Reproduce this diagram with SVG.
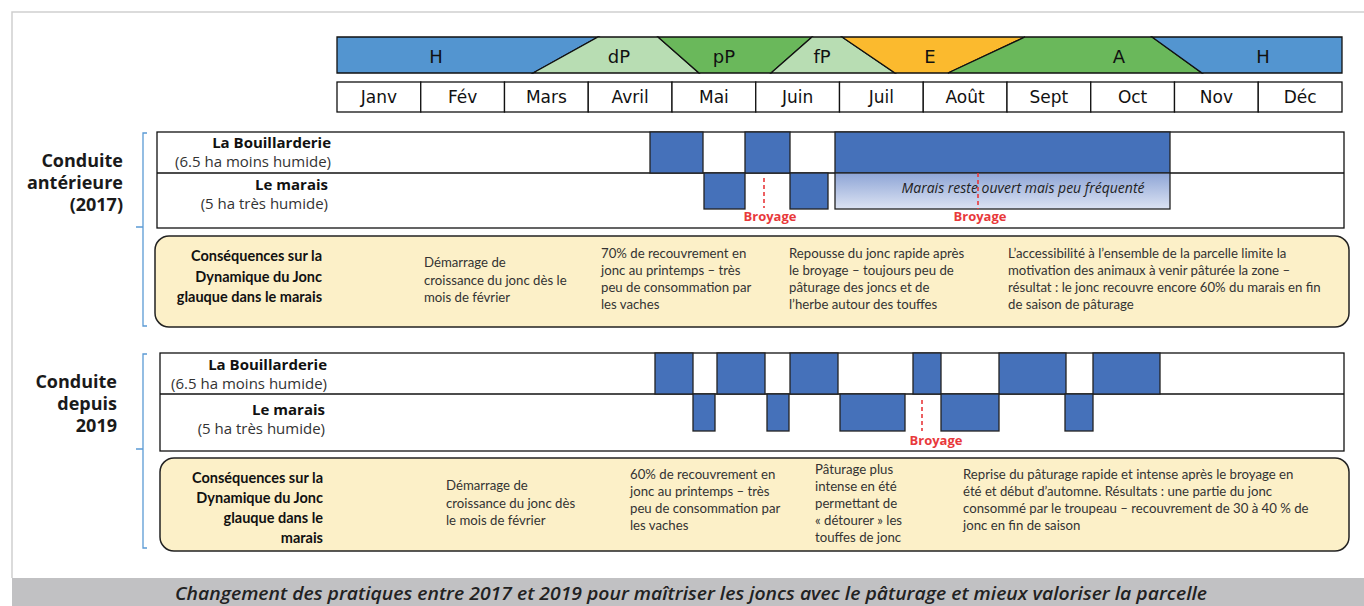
<svg xmlns="http://www.w3.org/2000/svg" width="1364" height="606" viewBox="0 0 1364 606">
<style>
.season{stroke:#111;stroke-width:1.3}
.mon{fill:#fff;stroke:#111;stroke-width:1.3}
.lbl{font-family:"DejaVu Sans",sans-serif;font-size:18px;fill:#111;text-anchor:middle}
.mlbl{font-family:"DejaVu Sans",sans-serif;font-size:17px;fill:#111;text-anchor:middle}
.sec{font-family:"Open Sans",sans-serif;font-weight:bold;font-size:18px;fill:#1a1a1a;text-anchor:end}
.rb{font-family:"Open Sans",sans-serif;font-weight:bold;font-size:15px;fill:#111;text-anchor:end}
.rr{font-family:"Open Sans",sans-serif;font-size:15px;fill:#333;text-anchor:end}
.box{fill:#fff;stroke:#111;stroke-width:1.3}
.blk{fill:#4571BA;stroke:#222;stroke-width:1.3}
.dash{stroke:#E8393B;stroke-width:1.6;stroke-dasharray:4 3;fill:none}
.broy{font-family:"Open Sans",sans-serif;font-weight:bold;font-size:13px;fill:#E8393B;text-anchor:middle}
.ybox{fill:#FCF0C8;stroke:#222;stroke-width:1.5}
.cb{font-family:Lato,sans-serif;font-weight:bold;font-size:14.5px;fill:#111;text-anchor:end}
.ct{font-family:Lato,sans-serif;font-size:13.2px;fill:#333}
.brk{fill:none;stroke:#5B9BD5;stroke-width:1.3}
</style>
<defs>
<linearGradient id="g1" x1="0" y1="0" x2="0" y2="1">
<stop offset="0" stop-color="#8EA5D6"/>
<stop offset="1" stop-color="#DCE3F3"/>
</linearGradient>
</defs>
<rect width="1364" height="606" fill="#fff"/>
<path d="M12,578 V12 H1364" fill="none" stroke="#cfcfcf" stroke-width="1.5"/>

<g id="seasons">
<polygon class="season" fill="#5395D0" points="337,37 598,37 533,73 337,73"/>
<polygon class="season" fill="#B8DDB3" points="598,37 658,37 699,73 533,73"/>
<polygon class="season" fill="#6AB85B" points="658,37 812,37 771,73 699,73"/>
<polygon class="season" fill="#B8DDB3" points="812,37 842,37 895,73 771,73"/>
<polygon class="season" fill="#FBBA2E" points="842,37 1025,37 948,73 895,73"/>
<polygon class="season" fill="#6AB85B" points="1025,37 1152,37 1202,73 948,73"/>
<polygon class="season" fill="#5395D0" points="1152,37 1342,37 1342,73 1202,73"/>
<text class="lbl" x="436" y="63">H</text>
<text class="lbl" x="619" y="63">dP</text>
<text class="lbl" x="724" y="63">pP</text>
<text class="lbl" x="822" y="63">fP</text>
<text class="lbl" x="930" y="63">E</text>
<text class="lbl" x="1119" y="63">A</text>
<text class="lbl" x="1263" y="63">H</text>
</g>

<g id="months">
<rect class="mon" x="337" y="82" width="83.75" height="30"/>
<rect class="mon" x="420.75" y="82" width="83.75" height="30"/>
<rect class="mon" x="504.5" y="82" width="83.75" height="30"/>
<rect class="mon" x="588.25" y="82" width="83.75" height="30"/>
<rect class="mon" x="672" y="82" width="83.75" height="30"/>
<rect class="mon" x="755.75" y="82" width="83.75" height="30"/>
<rect class="mon" x="839.5" y="82" width="83.75" height="30"/>
<rect class="mon" x="923.25" y="82" width="83.75" height="30"/>
<rect class="mon" x="1007" y="82" width="83.75" height="30"/>
<rect class="mon" x="1090.75" y="82" width="83.75" height="30"/>
<rect class="mon" x="1174.5" y="82" width="83.75" height="30"/>
<rect class="mon" x="1258.25" y="82" width="83.75" height="30"/>
<text class="mlbl" x="379" y="103">Janv</text>
<text class="mlbl" x="462.6" y="103">Fév</text>
<text class="mlbl" x="546.4" y="103">Mars</text>
<text class="mlbl" x="630.1" y="103">Avril</text>
<text class="mlbl" x="713.9" y="103">Mai</text>
<text class="mlbl" x="797.6" y="103">Juin</text>
<text class="mlbl" x="881.4" y="103">Juil</text>
<text class="mlbl" x="965.1" y="103">Août</text>
<text class="mlbl" x="1048.9" y="103">Sept</text>
<text class="mlbl" x="1132.6" y="103">Oct</text>
<text class="mlbl" x="1216.4" y="103">Nov</text>
<text class="mlbl" x="1300.1" y="103">Déc</text>
</g>

<g id="section2017">
<text class="sec" x="123" y="167">Conduite</text>
<text class="sec" x="123" y="189">antérieure</text>
<text class="sec" x="123" y="211">(2017)</text>
<path class="brk" d="M147,133 H143 V227 H136 M143,227 V326 H147"/>
<rect class="box" x="157" y="132" width="1187" height="96"/>
<line x1="157" y1="173" x2="1344" y2="173" stroke="#111" stroke-width="1.3"/>
<text class="rb" x="331" y="148">La Bouillarderie</text>
<text class="rr" x="331" y="167">(6.5 ha moins humide)</text>
<text class="rb" x="328" y="190">Le marais</text>
<text class="rr" x="328" y="209">(5 ha très humide)</text>
<rect class="blk" x="650" y="132" width="53" height="41"/>
<rect class="blk" x="745" y="132" width="45" height="41"/>
<rect class="blk" x="835" y="132" width="335" height="41"/>
<rect class="blk" x="704" y="173" width="41" height="36"/>
<rect class="blk" x="790" y="173" width="38" height="36"/>
<rect x="835" y="173" width="335" height="36" fill="url(#g1)" stroke="#222" stroke-width="1.3"/>
<text x="1023" y="193" font-family="'Open Sans',sans-serif" font-style="italic" font-size="14px" fill="#222" text-anchor="middle">Marais reste ouvert mais peu fréquenté</text>
<line class="dash" x1="764" y1="178" x2="764" y2="208"/>
<line class="dash" x1="978" y1="173" x2="978" y2="209"/>
<text class="broy" x="770" y="221">Broyage</text>
<text class="broy" x="980" y="221">Broyage</text>
</g>

<g id="consequences2017">
<rect class="ybox" x="155" y="236" width="1194" height="91" rx="14"/>
<text class="cb" x="322" y="261">Conséquences sur la</text>
<text class="cb" x="322" y="282">Dynamique du Jonc</text>
<text class="cb" x="322" y="302">glauque dans le marais</text>
<text class="ct" x="424" y="267">Démarrage de</text>
<text class="ct" x="424" y="285">croissance du jonc dès le</text>
<text class="ct" x="424" y="302">mois de février</text>
<text class="ct" x="601" y="258">70% de recouvrement en</text>
<text class="ct" x="601" y="275">jonc au printemps – très</text>
<text class="ct" x="601" y="292">peu de consommation par</text>
<text class="ct" x="601" y="309">les vaches</text>
<text class="ct" x="789" y="258">Repousse du jonc rapide après</text>
<text class="ct" x="789" y="275">le broyage – toujours peu de</text>
<text class="ct" x="789" y="292">pâturage des joncs et de</text>
<text class="ct" x="789" y="309">l’herbe autour des touffes</text>
<text class="ct" x="1008" y="258">L’accessibilité à l’ensemble de la parcelle limite la</text>
<text class="ct" x="1008" y="275">motivation des animaux à venir pâturée la zone –</text>
<text class="ct" x="1008" y="292">résultat : le jonc recouvre encore 60% du marais en fin</text>
<text class="ct" x="1008" y="309">de saison de pâturage</text>
</g>

<g id="section2019">
<text class="sec" x="117" y="388">Conduite</text>
<text class="sec" x="117" y="410">depuis</text>
<text class="sec" x="117" y="432">2019</text>
<path class="brk" d="M147,354 H143 V449 H136 M143,449 V548 H147"/>
<rect class="box" x="160" y="353" width="1184" height="98"/>
<line x1="160" y1="394" x2="1344" y2="394" stroke="#111" stroke-width="1.3"/>
<text class="rb" x="327" y="370">La Bouillarderie</text>
<text class="rr" x="327" y="389">(6.5 ha moins humide)</text>
<text class="rb" x="325" y="415">Le marais</text>
<text class="rr" x="325" y="434">(5 ha très humide)</text>
<rect class="blk" x="655" y="353" width="38" height="41"/>
<rect class="blk" x="717" y="353" width="48" height="41"/>
<rect class="blk" x="790" y="353" width="48" height="41"/>
<rect class="blk" x="913" y="353" width="28" height="41"/>
<rect class="blk" x="999" y="353" width="67" height="41"/>
<rect class="blk" x="1093" y="353" width="67" height="41"/>
<rect class="blk" x="693" y="394" width="22" height="37"/>
<rect class="blk" x="767" y="394" width="22" height="37"/>
<rect class="blk" x="840" y="394" width="65" height="37"/>
<rect class="blk" x="941" y="394" width="58" height="37"/>
<rect class="blk" x="1065" y="394" width="28" height="37"/>
<line class="dash" x1="922" y1="400" x2="922" y2="431"/>
<text class="broy" x="936" y="445">Broyage</text>
</g>

<g id="consequences2019">
<rect class="ybox" x="160" y="458" width="1189" height="93" rx="14"/>
<text class="cb" x="323" y="483">Conséquences sur la</text>
<text class="cb" x="323" y="503">Dynamique du Jonc</text>
<text class="cb" x="323" y="523">glauque dans le</text>
<text class="cb" x="323" y="543">marais</text>
<text class="ct" x="446" y="490">Démarrage de</text>
<text class="ct" x="446" y="508">croissance du jonc dès</text>
<text class="ct" x="446" y="525">le mois de février</text>
<text class="ct" x="630" y="479">60% de recouvrement en</text>
<text class="ct" x="630" y="496">jonc au printemps – très</text>
<text class="ct" x="630" y="513">peu de consommation par</text>
<text class="ct" x="630" y="530">les vaches</text>
<text class="ct" x="815" y="474">Pâturage plus</text>
<text class="ct" x="815" y="491">intense en été</text>
<text class="ct" x="815" y="508">permettant de</text>
<text class="ct" x="815" y="525">« détourer » les</text>
<text class="ct" x="815" y="542">touffes de jonc</text>
<text class="ct" x="963" y="479">Reprise du pâturage rapide et intense après le broyage  en</text>
<text class="ct" x="963" y="496">été et début d’automne.  Résultats : une partie du jonc</text>
<text class="ct" x="963" y="513">consommé par le troupeau – recouvrement de 30 à 40 % de</text>
<text class="ct" x="963" y="530">jonc en fin de saison</text>
</g>

<g id="caption">
<rect x="12" y="578" width="1352" height="28" fill="#C1C1C3"/>
<text x="691" y="600" font-family="'Open Sans',sans-serif" font-style="italic" font-weight="600" font-size="18px" fill="#222" text-anchor="middle" textLength="1032" lengthAdjust="spacingAndGlyphs">Changement des pratiques entre 2017 et 2019 pour maîtriser les joncs avec le pâturage et mieux valoriser la parcelle</text>
</g>
</svg>
